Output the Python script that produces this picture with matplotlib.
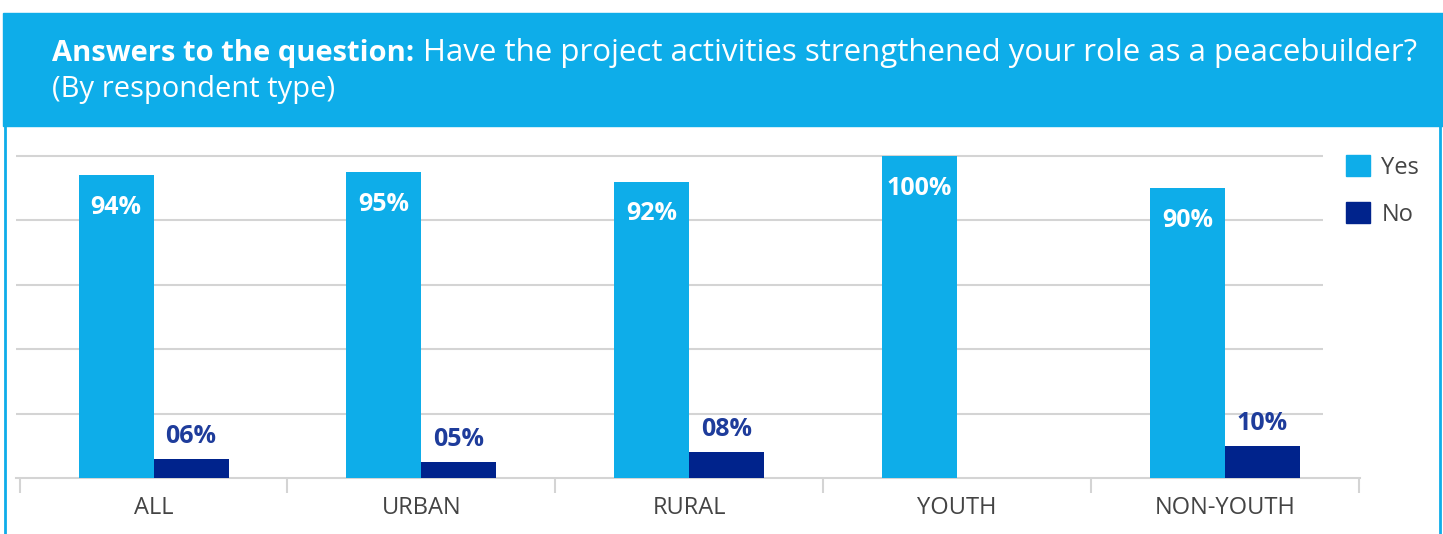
import matplotlib.pyplot as plt
from matplotlib.patches import Rectangle, Patch
from matplotlib.lines import Line2D

plt.rcParams['font.family'] = ['Open Sans', 'DejaVu Sans']

categorias = ['ALL', 'URBAN', 'RURAL', 'YOUTH', 'NON-YOUTH']
si = [94, 95, 92, 100, 90]
no = [6, 5, 8, 0, 10]
etiquetas_si = ['94%', '95%', '92%', '100%', '90%']
etiquetas_no = ['06%', '05%', '08%', '', '10%']

azul_claro = '#0EADE9'
azul_oscuro = '#00238C'
texto_no = '#1E3C9B'
gris = '#D4D4D4'

W, H = 1443, 534
fig = plt.figure(figsize=(W / 100, H / 100), dpi=100)

# banda del titulo y borde
fig.patches.append(Rectangle((3 / W, 1 - 126 / H), (W - 3) / W, 113 / H,
                             transform=fig.transFigure, color=azul_claro, zorder=0))
fig.lines.append(Line2D([4.5 / W, 4.5 / W], [0, 1 - 126 / H], transform=fig.transFigure,
                        color=azul_claro, lw=2))
fig.lines.append(Line2D([1440 / W, 1440 / W], [0, 1 - 126 / H], transform=fig.transFigure,
                        color=azul_claro, lw=2))

t1 = fig.text(52 / W, 1 - 61 / H, 'Answers to the question:', color='white',
              fontsize=21, fontweight='bold', va='baseline', ha='left')
fig.canvas.draw()
bb = t1.get_window_extent()
fig.text(bb.x1 / W + 9 / W, 1 - 61 / H,
         'Have the project activities strengthened your role as a peacebuilder?',
         color='white', fontsize=22.5, va='baseline', ha='left')
fig.text(52 / W, 1 - 97 / H, '(By respondent type)', color='white',
         fontsize=21, va='baseline', ha='left')

# ejes: la categoria 0 cae en x=153.5 px y la 4 en x=1225 px
ax = fig.add_axes([16 / W, (H - 478) / H, 1344 / W, (478 - 156) / H])
paso = (1225 - 153.5) / 4
x = list(range(len(categorias)))
ancho = 75 / paso
ax.bar([i - ancho / 2 for i in x], si, width=ancho, color=azul_claro, zorder=3)
ax.bar([i + ancho / 2 for i in x], no, width=ancho, color=azul_oscuro, zorder=3)

ax.set_xlim((16 - 153.5) / paso, (1360 - 153.5) / paso)
ax.set_ylim(0, 100)
ax.hlines([20, 40, 60, 80, 100], (16 - 153.5) / paso, (1323 - 153.5) / paso,
          color=gris, lw=1.5, zorder=1, clip_on=False)

for i in x:
    ax.text(i - ancho / 2, si[i] - 10, etiquetas_si[i], color='white', fontsize=18,
            fontweight='bold', ha='center', va='center', zorder=4)
    if etiquetas_no[i]:
        ax.text(i + ancho / 2, no[i] + 7, etiquetas_no[i], color=texto_no, fontsize=18,
                fontweight='bold', ha='center', va='center', zorder=4)

for s in ['top', 'right', 'left']:
    ax.spines[s].set_visible(False)
ax.spines['bottom'].set_color(gris)
ax.spines['bottom'].set_linewidth(1.5)
ax.set_yticks([])
ax.set_xticks([i - 0.5 for i in range(len(categorias) + 1)])
ax.set_xticklabels([])
ax.tick_params(axis='x', which='major', length=11, width=1.5, color=gris)
ax.set_xticks(x, minor=True)
ax.set_xticklabels(categorias, minor=True, fontsize=17, color='#444444')
ax.tick_params(axis='x', which='minor', length=0, pad=13)

handles = [Patch(color=azul_claro, label='Yes'), Patch(color=azul_oscuro, label='No')]
fig.legend(handles=handles, loc='upper left', bbox_to_anchor=(1346 / W, 1 - 155 / H),
           frameon=False, fontsize=17, handlelength=1.0, handleheight=1.0,
           handletextpad=0.5, labelspacing=0.95, borderpad=0, borderaxespad=0,
           labelcolor='#444444')

fig.savefig('out.png', dpi=100)
